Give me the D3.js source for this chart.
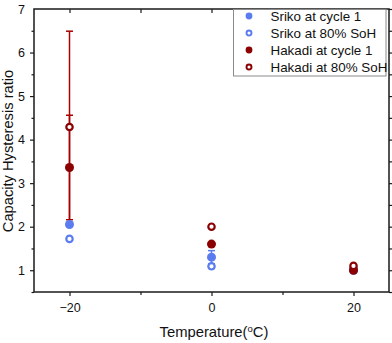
<!DOCTYPE html>
<html>
<head>
<meta charset="utf-8">
<script src="https://cdn.jsdelivr.net/npm/d3@7"></script>
<style>
  body { margin: 0; background: #fff; }
  svg { display: block; font-family: Arial, 'Liberation Sans', sans-serif; }
</style>
</head>
<body>
<svg id="chart"></svg>
<script>
'use strict';

const WIDTH = 392;
const HEIGHT = 343;

// data
const temps = [-20, 0, 20];
const srikoCycle1 = [2.05, 1.30, 1.00];
const srikoCycle1Err = [0, 0.15, 0];
const sriko80 = [1.72, 1.09, 1.04];
const sriko80Err = [0, 0.05, 0];
const hakadiCycle1 = [3.36, 1.60, 1.00];
const hakadiCycle1Err = [1.20, 0, 0];
const hakadi80 = [4.29, 2.00, 1.10];
const hakadi80Err = [2.20, 0, 0];

const xTicks = [-20, 0, 20];
const xMinor = [-10, 10];
const yTicks = [1, 2, 3, 4, 5, 6, 7];
const yMinor = [0.5, 1.5, 2.5, 3.5, 4.5, 5.5, 6.5];

const COLOR = {
    BLUE: '#5b7cf0',
    RED: '#8b0000',
    ERR_RED: '#a80000',
    AXIS: '#1a1a1a'
};

const series = [
    {name: 'Sriko at cycle 1', vals: srikoCycle1, err: srikoCycle1Err, color: COLOR.BLUE, errColor: COLOR.BLUE, open: false},
    {name: 'Sriko at 80% SoH', vals: sriko80, err: sriko80Err, color: COLOR.BLUE, errColor: COLOR.BLUE, open: true},
    {name: 'Hakadi at cycle 1', vals: hakadiCycle1, err: hakadiCycle1Err, color: COLOR.RED, errColor: COLOR.ERR_RED, open: false},
    {name: 'Hakadi at 80% SoH', vals: hakadi80, err: hakadi80Err, color: COLOR.RED, errColor: COLOR.ERR_RED, open: true}
];

const L = 34, R = 389, T = 9, B = 292;

const svg = d3.select('#chart').attr('width', WIDTH).attr('height', HEIGHT);

const x = d3.scaleLinear().domain([-25, 25]).range([L, R]);
const y = d3.scaleLinear().domain([0.5, 7]).range([B, T]);

// axes: bottom / left outward, top / right inward
function styleAxis(g) {
    g.select('.domain').remove();
    g.selectAll('line').attr('stroke', COLOR.AXIS).attr('stroke-width', 1.2);
    g.selectAll('text').attr('fill', '#111').attr('font-size', 12.5);
}

svg.append('g').attr('transform', 'translate(0,' + B + ')')
    .call(d3.axisBottom(x).tickValues(xTicks).tickSize(4).tickPadding(7).tickFormat(d3.format('d')))
    .call(styleAxis);
svg.append('g').attr('transform', 'translate(0,' + B + ')')
    .call(d3.axisBottom(x).tickValues(xMinor).tickSize(3).tickFormat(''))
    .call(styleAxis);
svg.append('g').attr('transform', 'translate(0,' + T + ')')
    .call(d3.axisBottom(x).tickValues(xTicks.concat(xMinor)).tickSize(4).tickFormat(''))
    .call(styleAxis);

svg.append('g').attr('transform', 'translate(' + L + ',0)')
    .call(d3.axisLeft(y).tickValues(yTicks.slice(0, 6)).tickSize(4).tickPadding(5).tickFormat(d3.format('d')))
    .call(styleAxis);
svg.append('g').attr('transform', 'translate(' + L + ',0)')
    .call(d3.axisLeft(y).tickValues(yMinor).tickSize(2.5).tickFormat(''))
    .call(styleAxis);
svg.append('g').attr('transform', 'translate(' + R + ',0)')
    .call(d3.axisLeft(y).tickValues(yTicks.concat(yMinor)).tickSize(-4).tickFormat(''))
    .call(styleAxis);

// "7" label at the top
svg.append('text')
    .attr('x', L - 9).attr('y', y(7) + 4.5)
    .attr('text-anchor', 'end').attr('font-size', 12.5).attr('fill', '#111')
    .text('7');

// frame
svg.append('rect')
    .attr('x', L).attr('y', T).attr('width', R - L).attr('height', B - T)
    .attr('fill', 'none').attr('stroke', COLOR.AXIS).attr('stroke-width', 1.5);

// error bars
const plot = svg.append('g');
series.forEach(function(s) {
    s.vals.forEach(function(v, i) {
        let e = s.err[i];
        if (!e) return;
        let cx = x(temps[i]);
        let g = plot.append('g').attr('stroke', s.errColor).attr('stroke-width', 1.5);
        g.append('line').attr('x1', cx).attr('x2', cx).attr('y1', y(v - e)).attr('y2', y(v + e));
        [v - e, v + e].forEach(function(c) {
            g.append('line').attr('x1', cx - 3.5).attr('x2', cx + 3.5).attr('y1', y(c)).attr('y2', y(c));
        });
    });
});

// markers
series.forEach(function(s) {
    plot.selectAll(null)
        .data(s.vals)
        .enter()
        .append('circle')
        .attr('cx', function(d, i) { return x(temps[i]); })
        .attr('cy', function(d) { return y(d); })
        .attr('r', s.open ? 3.2 : 4.5)
        .attr('fill', s.open ? '#fff' : s.color)
        .attr('stroke', s.open ? s.color : 'none')
        .attr('stroke-width', s.open ? 2.2 : 0);
});

// legend
const lg = svg.append('g');
lg.append('rect')
    .attr('x', 233.5).attr('y', 9.5).attr('width', 152.5).attr('height', 66.5)
    .attr('fill', '#fff').attr('stroke', '#8a8a8a').attr('stroke-width', 1);
series.forEach(function(s, i) {
    let cy = 16 + i * 17;
    lg.append('circle')
        .attr('cx', 249).attr('cy', cy)
        .attr('r', s.open ? 2.5 : 3.4)
        .attr('fill', s.open ? '#fff' : s.color)
        .attr('stroke', s.open ? s.color : 'none')
        .attr('stroke-width', s.open ? 1.9 : 0);
    lg.append('text')
        .attr('x', 270.5).attr('y', cy + 4.8)
        .attr('font-size', 13.4).attr('fill', '#111')
        .text(s.name);
});

// axis titles
svg.append('text')
    .attr('transform', 'translate(13,' + 151 + ') rotate(-90)')
    .attr('text-anchor', 'middle').attr('font-size', 14.7).attr('fill', '#111')
    .text('Capacity Hysteresis ratio');

const xt = svg.append('text')
    .attr('x', 214).attr('y', 337)
    .attr('text-anchor', 'middle').attr('font-size', 14.8).attr('fill', '#111');
xt.append('tspan').text('Temperature(');
xt.append('tspan').attr('font-size', 9.5).attr('dy', -5.5).text('o');
xt.append('tspan').attr('dy', 5.5).text('C)');
</script>
</body>
</html>
